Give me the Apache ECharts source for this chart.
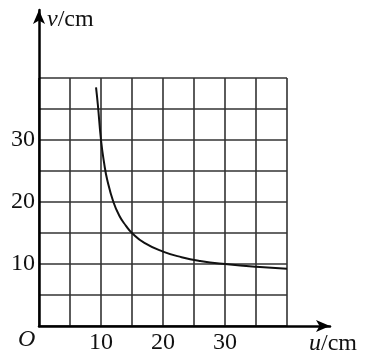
<!DOCTYPE html>
<html>
<head>
<meta charset="utf-8">
<script src="https://cdn.jsdelivr.net/npm/echarts@6/dist/echarts.min.js"></script>
<style>
  html, body { margin: 0; padding: 0; background: #fff; }
  #chart { width: 366px; height: 356px; }
</style>
</head>
<body>
<div id="chart"></div>
<script>
// object distance u (cm) and image distance v (cm)
var uValues = [9.2, 9.5, 10, 10.5, 11, 12, 13, 14, 15, 17, 20, 23, 26, 30, 35, 40];
var vValues = [38.5, 35.6, 30, 26.3, 23.6, 20, 17.7, 16.2, 15, 13.4, 12, 11.1, 10.5, 10, 9.55, 9.25];
var tickLabels = [10, 20, 30];

var serif = '"Liberation Serif", "DejaVu Serif", serif';
var dom = document.getElementById('chart');
var myChart = echarts.init(dom);

var curve = [];
for (var i = 0; i < uValues.length; i++) {
    curve.push([uValues[i], vValues[i]]);
}

function tickFmt(val) {
    return tickLabels.indexOf(val) >= 0 ? String(val) : '';
}

var option = {
    animation: false,
    backgroundColor: '#fff',
    grid: [
        {left: 39, top: 78, width: 248, height: 248},
        {left: 39, top: 10, width: 291, height: 316}
    ],
    xAxis: [
        {
            type: 'value', gridIndex: 0, min: 0, max: 40, interval: 5,
            axisLine: {show: false}, axisTick: {show: false},
            axisLabel: {formatter: tickFmt, color: '#111', fontFamily: serif, fontSize: 24, margin: 5},
            splitLine: {show: true, lineStyle: {color: '#333', width: 1.6}}
        },
        {
            type: 'value', gridIndex: 1, min: 0, max: 47,
            axisLine: {show: true, symbol: ['none', 'arrow'], symbolSize: [9, 14], lineStyle: {color: '#000', width: 2.5}},
            axisTick: {show: false}, axisLabel: {show: false}, splitLine: {show: false},
            name: '{i|u}/cm', nameLocation: 'end', nameGap: -21,
            nameTextStyle: {
                color: '#111', fontFamily: serif, fontSize: 24, align: 'left', verticalAlign: 'top',
                padding: [6, 0, 0, 0],
                rich: {i: {fontStyle: 'italic', fontFamily: serif, fontSize: 24, color: '#111'}}
            }
        }
    ],
    yAxis: [
        {
            type: 'value', gridIndex: 0, min: 0, max: 40, interval: 5,
            axisLine: {show: false}, axisTick: {show: false},
            axisLabel: {formatter: tickFmt, color: '#111', fontFamily: serif, fontSize: 24, margin: 4},
            splitLine: {show: true, lineStyle: {color: '#333', width: 1.6}}
        },
        {
            type: 'value', gridIndex: 1, min: 0, max: 51,
            axisLine: {show: true, symbol: ['none', 'arrow'], symbolSize: [9, 14], lineStyle: {color: '#000', width: 2.5}},
            axisTick: {show: false}, axisLabel: {show: false}, splitLine: {show: false},
            name: '{i|v}/cm', nameLocation: 'end', nameGap: -10,
            nameTextStyle: {
                color: '#111', fontFamily: serif, fontSize: 24, align: 'left', verticalAlign: 'middle',
                padding: [0, 0, 0, 8],
                rich: {i: {fontStyle: 'italic', fontFamily: serif, fontSize: 24, color: '#111'}}
            }
        }
    ],
    graphic: [
        {
            type: 'text', left: 18, top: 328,
            style: {text: 'O', font: 'italic 24px ' + serif, fill: '#111'}
        }
    ],
    series: [
        {
            type: 'line', xAxisIndex: 0, yAxisIndex: 0,
            data: curve, smooth: true, showSymbol: false,
            lineStyle: {color: '#111', width: 2}
        }
    ]
};
myChart.setOption(option, true);
</script>
</body>
</html>
